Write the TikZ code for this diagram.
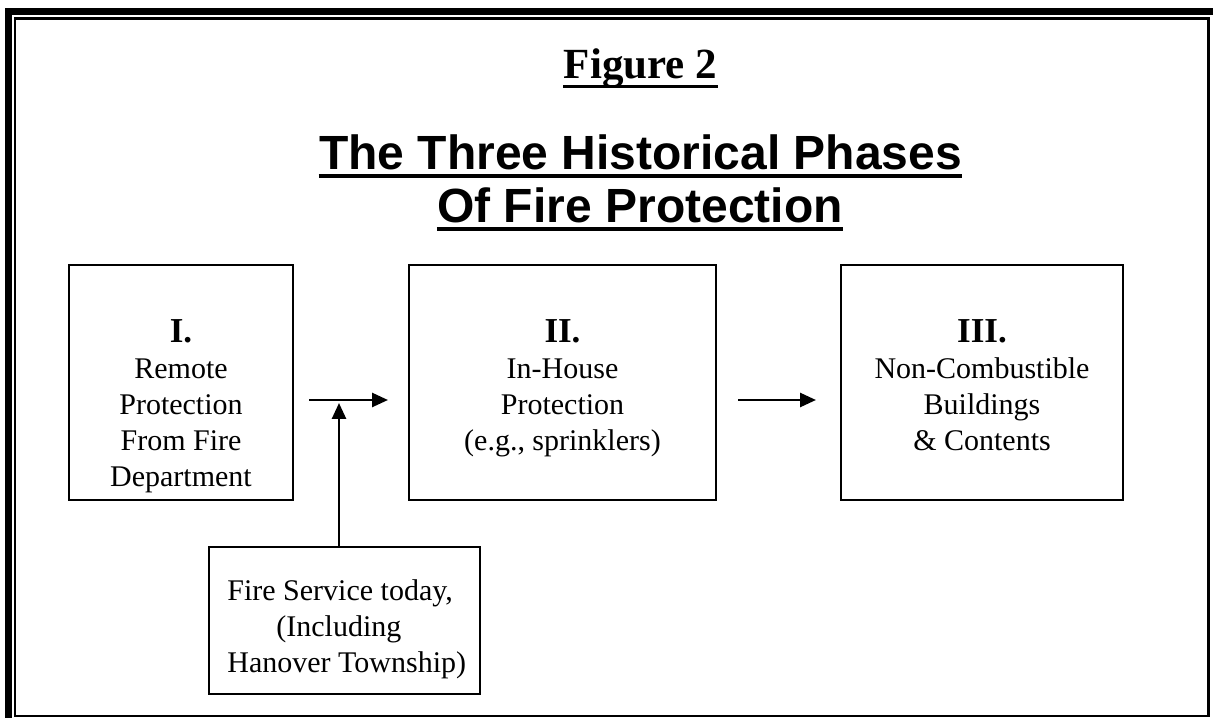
\documentclass[tikz,border=0pt]{standalone}
\usepackage{fontspec}
\setmainfont{Liberation Serif}
\setsansfont{Liberation Sans}
\usetikzlibrary{arrows.meta, positioning}

\begin{document}
\begin{tikzpicture}[x=0.5pt, y=0.5pt,
    phase/.style={draw, line width=1pt, inner sep=0pt},
    phasetxt/.style={align=center, inner sep=0pt, font=\fontsize{15}{18}\selectfont},
    ttl/.style={inner sep=0pt, anchor=base, font=\sffamily\bfseries\fontsize{24}{28}\selectfont},
    uline/.style={line width=2pt},
    arr/.style={-{Triangle[length=8pt, width=7pt]}, line width=1.3pt}
  ]
    \useasboundingbox (0,0) rectangle (1213,717);
    \clip (0,0) rectangle (1213,717);

    % double frame
    \draw[line width=3.5pt] (8.5,705.5) rectangle (1217,-7);
    \draw[line width=1.25pt] (15,698.5) rectangle (1208.5,1);

    % headings
    \node[inner sep=0pt, anchor=base, font=\bfseries\fontsize{21.5}{24}\selectfont]
      (fig) at (640.5,638) {Figure 2};
    \draw[line width=1.5pt] ([yshift=-3.75pt]fig.base west) -- ([yshift=-3.75pt]fig.base east);
    \node[ttl] (ttl1) at (640.5,547) {The Three Historical Phases};
    \node[ttl] (ttl2) at (640,494) {Of Fire Protection};
    \draw[uline] ([yshift=-3.25pt]ttl1.base west) -- ([yshift=-3.25pt]ttl1.base east);
    \draw[uline] ([yshift=-3.25pt]ttl2.base west) -- ([yshift=-3.25pt]ttl2.base east);

    % the three phases
    \node[phase, minimum width=112pt, minimum height=117.5pt] (ph1) at (181,334.5) {};
    \node[phase, minimum width=153.5pt, minimum height=117.5pt] (ph2) at (562.5,334.5) {};
    \node[phase, minimum width=141pt, minimum height=117.5pt] (ph3) at (982,334.5) {};
    \node[phasetxt, below=27.4pt of ph1.north] (ph1txt)
      {{\fontsize{17.5}{18}\selectfont\bfseries I.}\\Remote\\Protection\\From Fire\\Department};
    \node[phasetxt, below=27.4pt of ph2.north] (ph2txt)
      {{\fontsize{17.5}{18}\selectfont\bfseries II.}\\In-House\\Protection\\(e.g., sprinklers)};
    \node[phasetxt, below=27.4pt of ph3.north] (ph3txt)
      {{\fontsize{17.5}{18}\selectfont\bfseries III.}\\Non-Combustible\\Buildings\\\& Contents};

    % fire service today
    \node[phase, minimum width=135.5pt, minimum height=73.5pt] (fs) at (344.5,96.5) {};
    \node[phasetxt, align=left, anchor=north west] (fstxt)
      at ([shift={(9.5pt,-16.75pt)}]fs.north west)
      {Fire Service today,\\\hspace*{24.5pt}(Including\\Hanover Township)};

    \coordinate (a1) at ([yshift=-8.75pt]ph1.east);
    \coordinate (a2) at ([yshift=-8.75pt]ph2.west);
    \coordinate (fsin) at ([xshift=-2.75pt]fs.north);
    \draw[arr, shorten <=7.5pt, shorten >=10pt] (a1) -- (a2);
    \draw[arr, shorten <=10.5pt, shorten >=12pt] ([yshift=-8.75pt]ph2.east) -- ([yshift=-8.75pt]ph3.west);
    \draw[arr] (fsin) -- ([yshift=-1.5pt]fsin |- a1);
  \end{tikzpicture}
\end{document}
